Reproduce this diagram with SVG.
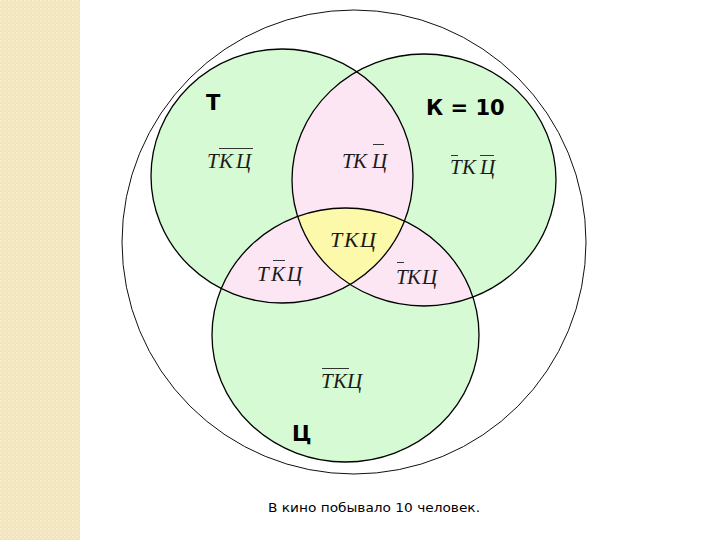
<svg xmlns="http://www.w3.org/2000/svg" width="720" height="540" viewBox="0 0 720 540">
<defs>
<pattern id="tex" width="4" height="4" patternUnits="userSpaceOnUse">
<rect width="4" height="4" fill="#f1e3ba"/>
<rect width="2" height="2" fill="#f7eccd"/>
<rect x="2" y="2" width="2" height="2" fill="#f5e8c6"/>
</pattern>
<clipPath id="cT"><ellipse cx="282" cy="176" rx="131" ry="127"/></clipPath>
<clipPath id="cK"><ellipse cx="424" cy="180" rx="132" ry="126"/></clipPath>
<clipPath id="cC"><ellipse cx="345.5" cy="335" rx="133.5" ry="127"/></clipPath>
<style>
.set{fill:#d6fad4}
.pink{fill:#fde6f4}
.yel{fill:#fcf9aa}
.edge{fill:none;stroke:#000;stroke-width:1.3}
.lbl{font-family:"DejaVu Sans",sans-serif;font-weight:bold;font-size:21px;fill:#000}
.reg{font-family:"Liberation Serif",serif;font-style:italic;font-size:21px;fill:#1a1a1a}
.ov{stroke:#333;stroke-width:1}
.cap{font-family:"DejaVu Sans",sans-serif;font-size:13px;fill:#000}
</style>
</defs>
<rect width="720" height="540" fill="#fff"/>
<rect width="80" height="540" fill="url(#tex)"/>
<g id="universe"><circle cx="354" cy="242" r="232" fill="none" stroke="#111" stroke-width="1"/></g>
<g id="fills">
<ellipse class="set" cx="282" cy="176" rx="131" ry="127"/>
<ellipse class="set" cx="424" cy="180" rx="132" ry="126"/>
<ellipse class="set" cx="345.5" cy="335" rx="133.5" ry="127"/>
<ellipse class="pink" cx="424" cy="180" rx="132" ry="126" clip-path="url(#cT)"/>
<ellipse class="pink" cx="345.5" cy="335" rx="133.5" ry="127" clip-path="url(#cT)"/>
<ellipse class="pink" cx="345.5" cy="335" rx="133.5" ry="127" clip-path="url(#cK)"/>
<g clip-path="url(#cT)"><ellipse class="yel" cx="345.5" cy="335" rx="133.5" ry="127" clip-path="url(#cK)"/></g>
</g>
<g id="setT"><ellipse class="edge" cx="282" cy="176" rx="131" ry="127"/><text class="lbl" x="206" y="110">Т</text></g>
<g id="setK"><ellipse class="edge" cx="424" cy="180" rx="132" ry="126"/><text class="lbl" x="426" y="115">К = 10</text></g>
<g id="setC"><ellipse class="edge" cx="345.5" cy="335" rx="133.5" ry="127"/><text class="lbl" x="292" y="441">Ц</text></g>
<g id="r-T"><text class="reg" x="207 219 236" y="168">ТКЦ</text><line class="ov" x1="219" y1="148.5" x2="253" y2="148.5"/></g>
<g id="r-TK"><text class="reg" x="342 353 372" y="168">ТКЦ</text><line class="ov" x1="373" y1="144.5" x2="384" y2="144.5"/></g>
<g id="r-K"><text class="reg" x="450 462 480" y="174">ТКЦ</text><line class="ov" x1="451" y1="155.5" x2="458" y2="155.5"/><line class="ov" x1="480" y1="155.5" x2="494" y2="155.5"/></g>
<g id="r-TKC"><text class="reg" x="330 344 360" y="247" style="font-size:22px">ТКЦ</text></g>
<g id="r-TC"><text class="reg" x="257 271 287" y="281">ТКЦ</text><line class="ov" x1="273" y1="260.5" x2="285" y2="260.5"/></g>
<g id="r-KC"><text class="reg" x="396 407 422" y="284">ТКЦ</text><line class="ov" x1="397" y1="262.5" x2="404" y2="262.5"/></g>
<g id="r-C"><text class="reg" x="321 333 347" y="388">ТКЦ</text><line class="ov" x1="322" y1="368.5" x2="349" y2="368.5"/></g>
<text class="cap" x="268" y="512" textLength="212" lengthAdjust="spacingAndGlyphs">В кино побывало 10 человек.</text>
</svg>
